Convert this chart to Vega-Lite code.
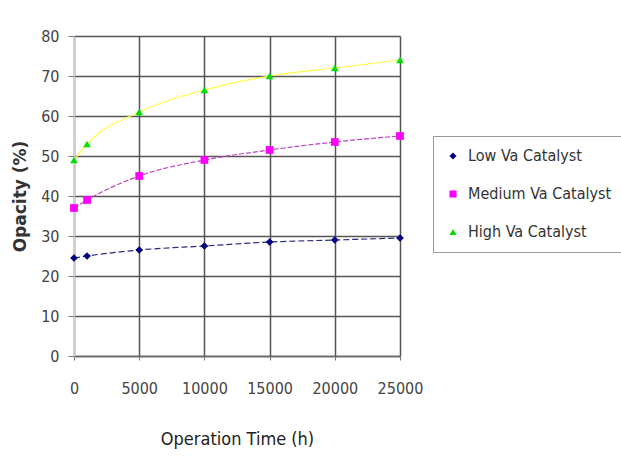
{
  "$schema": "https://vega.github.io/schema/vega-lite/v6.json",
  "autosize": "none",
  "width": 326,
  "height": 320,
  "padding": {"left": 74, "top": 36, "right": 221, "bottom": 119},
  "background": "white",
  "data": {
    "values": [
      {"time": 0, "opacity": 24.5, "series": "Low Va Catalyst"},
      {"time": 1000, "opacity": 25, "series": "Low Va Catalyst"},
      {"time": 5000, "opacity": 26.5, "series": "Low Va Catalyst"},
      {"time": 10000, "opacity": 27.5, "series": "Low Va Catalyst"},
      {"time": 15000, "opacity": 28.5, "series": "Low Va Catalyst"},
      {"time": 20000, "opacity": 29, "series": "Low Va Catalyst"},
      {"time": 25000, "opacity": 29.5, "series": "Low Va Catalyst"},
      {"time": 0, "opacity": 37, "series": "Medium Va Catalyst"},
      {"time": 1000, "opacity": 39, "series": "Medium Va Catalyst"},
      {"time": 5000, "opacity": 45, "series": "Medium Va Catalyst"},
      {"time": 10000, "opacity": 49, "series": "Medium Va Catalyst"},
      {"time": 15000, "opacity": 51.5, "series": "Medium Va Catalyst"},
      {"time": 20000, "opacity": 53.5, "series": "Medium Va Catalyst"},
      {"time": 25000, "opacity": 55, "series": "Medium Va Catalyst"},
      {"time": 0, "opacity": 49, "series": "High Va Catalyst"},
      {"time": 1000, "opacity": 53, "series": "High Va Catalyst"},
      {"time": 5000, "opacity": 61, "series": "High Va Catalyst"},
      {"time": 10000, "opacity": 66.5, "series": "High Va Catalyst"},
      {"time": 15000, "opacity": 70, "series": "High Va Catalyst"},
      {"time": 20000, "opacity": 72, "series": "High Va Catalyst"},
      {"time": 25000, "opacity": 74, "series": "High Va Catalyst"}
    ]
  },
  "config": {
    "view": {"stroke": null},
    "font": "DejaVu Sans Condensed"
  },
  "encoding": {
    "x": {
      "field": "time", "type": "quantitative",
      "scale": {"domain": [0, 25000], "nice": false},
      "axis": {
        "values": [0, 5000, 10000, 15000, 20000, 25000],
        "format": "d",
        "title": "Operation Time (h)",
        "titleFont": "DejaVu Sans Condensed", "titleFontSize": 18, "titleFontWeight": "normal", "titleColor": "#222",
        "titlePadding": 34,
        "labelFont": "DejaVu Sans Condensed", "labelFontSize": 16, "labelColor": "#444", "labelPadding": 20,
        "labelFlush": false,
        "grid": true, "gridColor": "#555", "gridWidth": 1.5,
        "domain": true, "domainColor": "#666", "domainWidth": 1.5,
        "ticks": true, "tickColor": "#777", "tickSize": 4
      }
    },
    "y": {
      "field": "opacity", "type": "quantitative",
      "scale": {"domain": [0, 80], "nice": false},
      "axis": {
        "values": [0, 10, 20, 30, 40, 50, 60, 70, 80],
        "title": "Opacity (%)",
        "titleFont": "DejaVu Sans", "titleFontSize": 17, "titleFontWeight": "bold", "titleColor": "#333",
        "titlePadding": 11,
        "labelFont": "DejaVu Sans Condensed", "labelFontSize": 16, "labelColor": "#444", "labelPadding": 9,
        "grid": true, "gridColor": "#555", "gridWidth": 1.5,
        "domain": true, "domainColor": "#ccc", "domainWidth": 1.5,
        "ticks": true, "tickColor": "#777", "tickSize": 6
      }
    }
  },
  "layer": [
    {
      "transform": [{"filter": "datum.series === 'Low Va Catalyst'"}],
      "mark": {"type": "line", "interpolate": "monotone", "strokeWidth": 1.2, "color": "#2a2a80", "strokeDash": [6, 3]},
      "encoding": {}
    },
    {
      "transform": [{"filter": "datum.series === 'Medium Va Catalyst'"}],
      "mark": {"type": "line", "interpolate": "monotone", "strokeWidth": 1.2, "color": "#c040c0", "strokeDash": [5, 2]},
      "encoding": {}
    },
    {
      "transform": [{"filter": "datum.series === 'High Va Catalyst'"}],
      "mark": {"type": "line", "interpolate": "monotone", "strokeWidth": 1.2, "color": "#ffff40"},
      "encoding": {}
    },
    {
      "mark": {"type": "point", "filled": true, "opacity": 1, "size": 60},
      "encoding": {
        "color": {
          "field": "series", "type": "nominal",
          "scale": {"domain": ["Low Va Catalyst", "Medium Va Catalyst", "High Va Catalyst"], "range": ["#000080", "#ff00ff", "#00e000"]},
          "legend": {
            "title": null,
            "orient": "none",
            "legendX": 359,
            "legendY": 100,
            "strokeColor": "#999",
            "padding": 12,
            "rowPadding": 22,
            "labelFont": "DejaVu Sans Condensed",
            "labelFontSize": 16,
            "labelColor": "#333",
            "labelOffset": 7,
            "symbolSize": 50,
            "labelLimit": 300
          }
        },
        "shape": {
          "field": "series", "type": "nominal",
          "scale": {"domain": ["Low Va Catalyst", "Medium Va Catalyst", "High Va Catalyst"], "range": ["diamond", "square", "triangle-up"]}
        }
      }
    }
  ]
}
